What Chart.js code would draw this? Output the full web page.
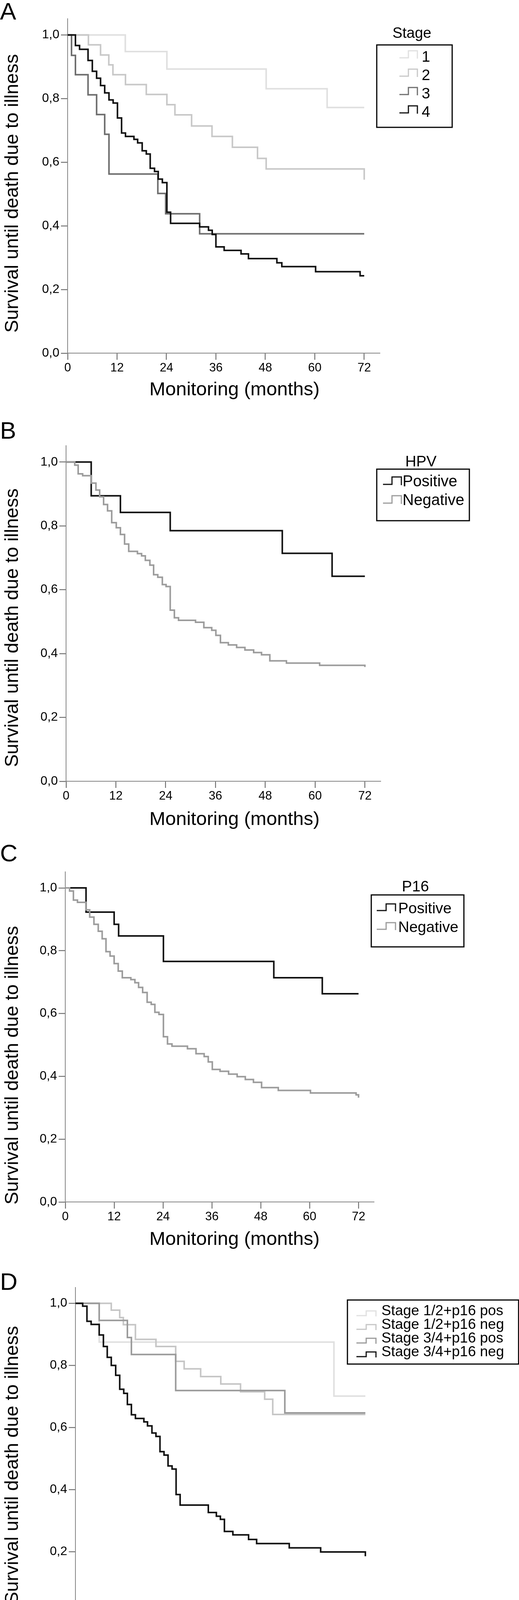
<!DOCTYPE html>
<html>
<head>
<meta charset="utf-8">
<script src="https://cdn.jsdelivr.net/npm/chart.js@4.4.1/dist/chart.umd.min.js"></script>
<style>
html, body { margin:0; padding:0; background:#fff; overflow:hidden; }
#page { position:relative; width:1328px; height:4248px; background:#fff; }
.panel { position:absolute; left:0; width:1328px; }
</style>
</head>
<body>
<div id="page">
  <div class="panel" id="pA" style="top:0px;height:1040px"><canvas id="cA"></canvas></div>
  <div class="panel" id="pB" style="top:1040px;height:1090px"><canvas id="cB"></canvas></div>
  <div class="panel" id="pC" style="top:2130px;height:1075px"><canvas id="cC"></canvas></div>
  <div class="panel" id="pD" style="top:3205px;height:1043px"><canvas id="cD"></canvas></div>
</div>
<script>
// ---------------- DATA ----------------
const xTickValues = [0, 12, 24, 36, 48, 60, 72];
const yTickValues = [0, 0.2, 0.4, 0.6, 0.8, 1.0];
const xAxisTitle = 'Monitoring (months)';
const yAxisTitle = 'Survival until death due to illness';

// Panel A: Stage
const stageLabels = ['1', '2', '3', '4'];
const stage1Months = [0, 14.0, 24.1, 48.2, 63.0, 72];
const stage1Surv   = [1, 0.948, 0.893, 0.831, 0.772, 0.772];
const stage2Months = [0, 5.05, 8.0, 10.0, 11.0, 14.05, 19.1, 24.1, 26.05, 30.1, 35.05, 40.0, 46.1, 48.2, 72];
const stage2Surv   = [1, 0.969, 0.937, 0.906, 0.875, 0.844, 0.813, 0.781, 0.749, 0.714, 0.681, 0.647, 0.612, 0.579, 0.545];
const stage3Months = [0, 0.95, 1.9, 4.96, 7.04, 9.0, 10.04, 21.9, 23.8, 32.05, 72];
const stage3Surv   = [1, 0.936, 0.875, 0.812, 0.750, 0.688, 0.563, 0.502, 0.438, 0.375, 0.375];
const stage4Months = [0, 1.9, 2.9, 4.96, 6.0, 7.04, 8.0, 9.0, 10.04, 11.05, 12.1, 13.1, 14.05, 16.1, 17.0, 18.1, 19.1, 20.05, 21.1, 22.0, 23.0, 24.1, 25.0, 32.05, 34.2, 35.1, 36.0, 38.0, 42.1, 43.9, 50.8, 52.0, 60.2, 71.0, 72];
const stage4Surv   = [1, 0.967, 0.955, 0.920, 0.886, 0.864, 0.841, 0.818, 0.796, 0.786, 0.739, 0.692, 0.681, 0.672, 0.661, 0.636, 0.626, 0.581, 0.571, 0.547, 0.536, 0.443, 0.408, 0.397, 0.386, 0.373, 0.334, 0.323, 0.312, 0.297, 0.284, 0.272, 0.256, 0.243, 0.243];

// Panel B: HPV
const hpvLabels = ['Positive', 'Negative'];
const hpvPosMonths = [0, 6.06, 13.1, 25.1, 52.1, 64.1, 72];
const hpvPosSurv   = [1, 0.894, 0.842, 0.785, 0.714, 0.642, 0.642];
const hpvNegMonths = [0, 2.1, 2.92, 4.0, 6.06, 7.2, 8.1, 9.05, 10.0, 11.0, 12.1, 13.1, 14.1, 15.1, 17.2, 18.2, 19.1, 20.2, 21.1, 22.1, 23.2, 24.1, 25.1, 26.1, 27.1, 31.2, 33.2, 35.1, 36.1, 37.2, 39.1, 41.1, 43.1, 45.2, 47.1, 49.1, 53.1, 61.1, 72];
const hpvNegSurv   = [1, 0.99, 0.963, 0.957, 0.934, 0.912, 0.891, 0.867, 0.847, 0.810, 0.794, 0.773, 0.743, 0.720, 0.713, 0.706, 0.692, 0.677, 0.647, 0.639, 0.616, 0.610, 0.536, 0.512, 0.504, 0.498, 0.481, 0.473, 0.457, 0.434, 0.427, 0.419, 0.411, 0.403, 0.396, 0.377, 0.370, 0.363, 0.358];

// Panel C: P16
const p16Labels = ['Positive', 'Negative'];
const p16PosMonths = [0, 5.1, 12.0, 13.1, 24.1, 51.2, 63.1, 72];
const p16PosSurv   = [1, 0.923, 0.884, 0.847, 0.766, 0.714, 0.663, 0.663];
const p16NegMonths = [0, 1.06, 2.0, 3.0, 5.06, 6.0, 7.04, 8.1, 9.06, 10.0, 11.0, 12.0, 13.0, 14.0, 16.1, 17.1, 18.0, 19.0, 20.1, 21.1, 22.0, 23.0, 24.1, 25.1, 26.2, 30.0, 32.1, 34.1, 35.1, 36.1, 38.0, 40.1, 42.2, 44.2, 46.2, 48.2, 52.3, 60.2, 71.4, 72];
const p16NegSurv   = [1, 0.99, 0.961, 0.954, 0.930, 0.907, 0.884, 0.862, 0.838, 0.797, 0.783, 0.759, 0.735, 0.714, 0.708, 0.698, 0.683, 0.667, 0.636, 0.629, 0.604, 0.597, 0.526, 0.503, 0.496, 0.488, 0.472, 0.463, 0.446, 0.422, 0.416, 0.407, 0.399, 0.390, 0.381, 0.364, 0.355, 0.347, 0.341, 0.332];

// Panel D: Stage + p16
const comboLabels = ['Stage 1/2+p16 pos', 'Stage 1/2+p16 neg', 'Stage 3/4+p16 pos', 'Stage 3/4+p16 neg'];
const early16PosMonths = [0, 5.9, 64.2, 72];
const early16PosSurv   = [1, 0.875, 0.701, 0.701];
const early16NegMonths = [0, 8.9, 11.0, 11.9, 14.9, 20.0, 24.9, 27.0, 31.1, 36.1, 41.0, 47.0, 49.0, 72];
const early16NegSurv   = [1, 0.978, 0.954, 0.931, 0.884, 0.861, 0.813, 0.789, 0.764, 0.740, 0.715, 0.691, 0.642, 0.642];
const late16PosMonths  = [0, 5.9, 12.9, 13.9, 24.9, 52.0, 72];
const late16PosSurv    = [1, 0.945, 0.890, 0.835, 0.719, 0.647, 0.647];
const late16NegMonths  = [0, 1.8, 2.86, 3.9, 5.9, 6.95, 7.9, 8.9, 10.0, 11.0, 12.0, 12.9, 13.9, 14.9, 17.0, 17.9, 19.0, 20.0, 21.0, 22.0, 23.0, 24.0, 25.0, 26.0, 33.0, 35.0, 36.0, 37.0, 39.1, 43.0, 45.0, 53.1, 60.9, 72];
const late16NegSurv    = [1, 0.991, 0.942, 0.932, 0.898, 0.861, 0.826, 0.800, 0.768, 0.723, 0.710, 0.674, 0.641, 0.629, 0.618, 0.605, 0.582, 0.571, 0.522, 0.511, 0.476, 0.466, 0.384, 0.350, 0.326, 0.314, 0.304, 0.265, 0.254, 0.239, 0.226, 0.212, 0.199, 0.185];

// ---------------- STYLE / LAYOUT ----------------
const FONT = '"Liberation Sans", Arial, Helvetica, sans-serif';
const X_MAX = 75.8, Y_MAX = 1.051;

const decorPlugin = {
  id: 'decor',
  afterDraw(chart, args, o) {
    const ctx = chart.ctx, off = o.top;
    ctx.save();
    ctx.fillStyle = '#000';
    ctx.textBaseline = 'alphabetic';
    // panel letter
    ctx.font = '62px ' + FONT;
    ctx.textAlign = 'left';
    ctx.fillText(o.letter, 0, o.letterBase - off);
    // x title
    ctx.font = '49px ' + FONT;
    ctx.textAlign = 'center';
    ctx.fillText(xAxisTitle, o.xTitleX, o.xTitleBase - off);
    // y title
    ctx.save();
    ctx.translate(o.yTitleBaseX, o.yTitleY - off);
    ctx.rotate(-Math.PI / 2);
    ctx.textAlign = 'center';
    ctx.fillText(yAxisTitle, 0, 0);
    ctx.restore();
    // legend
    const L = o.legend;
    ctx.lineWidth = 3;
    ctx.strokeStyle = '#000';
    ctx.strokeRect(L.l, L.t - off, L.r - L.l, L.b - L.t);
    if (L.title) {
      ctx.font = L.titleFont + 'px ' + FONT;
      ctx.textAlign = 'center';
      ctx.fillText(L.title, L.titleX, L.titleBase - off);
    }
    ctx.font = L.font + 'px ' + FONT;
    ctx.textAlign = 'left';
    ctx.textBaseline = 'middle';
    chart.data.datasets.forEach((ds, i) => {
      const y = L.rows[i] - off;
      ctx.strokeStyle = ds.borderColor;
      ctx.lineWidth = 3;
      ctx.lineJoin = 'miter';
      ctx.beginPath();
      ctx.moveTo(L.ix[0], y + L.ib);
      ctx.lineTo(L.ix[1], y + L.ib);
      ctx.lineTo(L.ix[1], y + L.it);
      ctx.lineTo(L.ix[2], y + L.it);
      ctx.lineTo(L.ix[2], y + L.ib + 2);
      ctx.stroke();
      ctx.fillStyle = '#000';
      ctx.fillText(ds.label, L.tx, y);
    });
    ctx.restore();
  }
};

function series(label, months, surv, color, order) {
  return {
    label: label,
    data: months.map((m, i) => ({ x: m, y: surv[i] })),
    borderColor: color,
    backgroundColor: color,
    borderWidth: 4,
    stepped: true,
    pointRadius: 0,
    pointHoverRadius: 0,
    fill: false,
    tension: 0,
    borderJoinStyle: 'miter',
    borderCapStyle: 'butt',
    order: order
  };
}

function makeChart(canvasId, panel, datasets) {
  const top = panel.top, h = panel.height, a = panel.area;
  return new Chart(document.getElementById(canvasId), {
    type: 'line',
    data: { datasets: datasets },
    options: {
      responsive: true,
      maintainAspectRatio: false,
      animation: false,
      devicePixelRatio: 1,
      events: [],
      layout: { padding: { left: 0, top: a.t - top, right: 1328 - a.r, bottom: 0 } },
      scales: {
        x: {
          type: 'linear', min: 0, max: X_MAX,
          afterBuildTicks: s => { s.ticks = xTickValues.map(v => ({ value: v })); },
          afterFit: s => { s.height = h - (a.b - top); },
          grid: { display: true, drawOnChartArea: false, drawTicks: true, tickLength: 17, tickColor: '#555', tickWidth: 2, color: '#555' },
          border: { display: true, color: '#858585', width: 2 },
          ticks: { color: '#000', font: { family: FONT, size: 31 }, padding: 3, maxRotation: 0, autoSkip: false }
        },
        y: {
          type: 'linear', min: 0, max: Y_MAX,
          afterBuildTicks: s => { s.ticks = yTickValues.map(v => ({ value: v })); },
          afterFit: s => { s.width = a.l; },
          grid: { display: true, drawOnChartArea: false, drawTicks: true, tickLength: 17, tickColor: '#555', tickWidth: 2, color: '#555' },
          border: { display: true, color: '#858585', width: 2 },
          ticks: { color: '#000', font: { family: FONT, size: 32 }, padding: 4, autoSkip: false,
                   callback: v => Number(v).toFixed(1).replace('.', ',') }
        }
      },
      plugins: {
        legend: { display: false },
        tooltip: { enabled: false },
        decor: panel.decor
      }
    },
    plugins: [decorPlugin]
  });
}

// Panel A
makeChart('cA', {
  top: 0, height: 1040,
  area: { l: 173, r: 972, t: 48, b: 904 },
  decor: {
    top: 0, letter: 'A', letterBase: 50,
    xTitleX: 600, xTitleBase: 1012, yTitleBaseX: 46, yTitleY: 495,
    legend: { l: 964, r: 1157, t: 115, b: 326, title: 'Stage', titleFont: 38, titleX: 1054, titleBase: 97,
              font: 39, rows: [147, 194, 241, 288], ix: [1022, 1045, 1068], ib: 1, it: -17, tx: 1079 }
  }
}, [
  series(stageLabels[0], stage1Months, stage1Surv, '#e0e0e0', 3),
  series(stageLabels[1], stage2Months, stage2Surv, '#c8c8c8', 2),
  series(stageLabels[2], stage3Months, stage3Surv, '#6e6e6e', 1),
  series(stageLabels[3], stage4Months, stage4Surv, '#111111', 0)
]);

// Panel B
makeChart('cB', {
  top: 1040, height: 1090,
  area: { l: 169, r: 974, t: 1141, b: 2000 },
  decor: {
    top: 1040, letter: 'B', letterBase: 1123,
    xTitleX: 600, xTitleBase: 2112, yTitleBaseX: 46, yTitleY: 1607,
    legend: { l: 964, r: 1201, t: 1201, b: 1333, title: 'HPV', titleFont: 39, titleX: 1077, titleBase: 1194,
              font: 40, rows: [1234, 1282], ix: [980, 1003, 1027], ib: 6, it: -13, tx: 1030 }
  }
}, [
  series(hpvLabels[0], hpvPosMonths, hpvPosSurv, '#111111', 1),
  series(hpvLabels[1], hpvNegMonths, hpvNegSurv, '#9c9c9c', 0)
]);

// Panel C
makeChart('cC', {
  top: 2130, height: 1075,
  area: { l: 167, r: 957, t: 2232, b: 3077 },
  decor: {
    top: 2130, letter: 'C', letterBase: 2205,
    xTitleX: 600, xTitleBase: 3187, yTitleBaseX: 46, yTitleY: 2727,
    legend: { l: 950, r: 1187, t: 2291, b: 2424, title: 'P16', titleFont: 39, titleX: 1063, titleBase: 2282,
              font: 39, rows: [2327, 2375], ix: [964, 988, 1012], ib: 4, it: -13, tx: 1019 }
  }
}, [
  series(p16Labels[0], p16PosMonths, p16PosSurv, '#111111', 1),
  series(p16Labels[1], p16NegMonths, p16NegSurv, '#9c9c9c', 0)
]);

// Panel D
makeChart('cD', {
  top: 3205, height: 1043,
  area: { l: 193, r: 974, t: 3296, b: 4131 },
  decor: {
    top: 3205, letter: 'D', letterBase: 3302,
    xTitleX: 600, xTitleBase: 4237, yTitleBaseX: 46, yTitleY: 3751,
    legend: { l: 889, r: 1327, t: 3328, b: 3492, title: null,
              font: 37, rows: [3357, 3392, 3427, 3462], ix: [912, 937, 962], ib: 11, it: -1, tx: 976 }
  }
}, [
  series(comboLabels[0], early16PosMonths, early16PosSurv, '#e0e0e0', 3),
  series(comboLabels[1], early16NegMonths, early16NegSurv, '#c6c6c6', 2),
  series(comboLabels[2], late16PosMonths, late16PosSurv, '#9a9a9a', 1),
  series(comboLabels[3], late16NegMonths, late16NegSurv, '#111111', 0)
]);
</script>
</body>
</html>
